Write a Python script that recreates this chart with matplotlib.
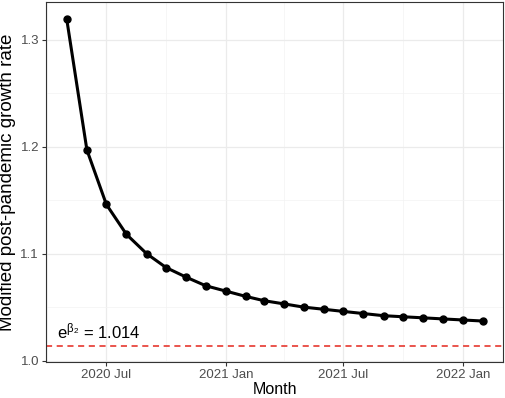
import matplotlib
matplotlib.use("Agg")
import matplotlib.pyplot as plt
import matplotlib.dates as mdates
import datetime

plt.rcParams['font.family'] = ['Liberation Sans', 'DejaVu Sans']
plt.rcParams['mathtext.fontset'] = 'custom'
plt.rcParams['mathtext.rm'] = 'Liberation Sans'
plt.rcParams['mathtext.it'] = 'Liberation Sans'

# monthly values, May 2020 .. Feb 2022
months = [datetime.date(2020 + (4 + i) // 12, (4 + i) % 12 + 1, 1) for i in range(22)]
rate = [1.319, 1.197, 1.146, 1.118, 1.100, 1.087, 1.078, 1.070, 1.065, 1.060,
        1.056, 1.053, 1.050, 1.048, 1.046, 1.044, 1.042, 1.041, 1.040, 1.039,
        1.038, 1.037]
beta2_exp = 1.014

fig = plt.figure(figsize=(5.05, 3.98), dpi=100)
ax = fig.add_axes([46/505, 1 - 362/398, (503-46)/505, (362-2)/398])

ax.axhline(beta2_exp, color='#E4261C', lw=1.1, ls=(0, (4, 3)), zorder=2)
ax.plot(months, rate, color='black', lw=2.2, marker='o', markersize=5, zorder=3)
ax.text(datetime.date(2020, 4, 16), beta2_exp + 0.004,
        r'e$^{\beta_2}$ = 1.014', fontsize=12, va='bottom', ha='left')

ax.set_xlim(datetime.date(2020, 3, 30), datetime.date(2022, 3, 4))
ax.set_ylim(0.9987, 1.3353)
ax.set_yticks([1.0, 1.1, 1.2, 1.3])
ax.set_yticks([1.05, 1.15, 1.25], minor=True)
ax.xaxis.set_major_locator(mdates.MonthLocator(bymonth=[1, 7]))
ax.xaxis.set_minor_locator(mdates.MonthLocator(bymonth=[4, 10]))
ax.xaxis.set_major_formatter(mdates.DateFormatter('%Y %b'))

ax.grid(True, which='major', color='#EBEBEB', lw=0.9)
ax.grid(True, which='minor', color='#F3F3F3', lw=0.5)
ax.set_axisbelow(True)
for s in ax.spines.values():
    s.set_color('#333333')
    s.set_linewidth(0.8)
ax.tick_params(which='major', length=3, color='#333333', labelsize=9.5, labelcolor='#4D4D4D', pad=2)
ax.tick_params(which='minor', length=0)

ax.set_xlabel('Month', fontsize=11.5, labelpad=1)
ax.set_ylabel('Modified post-pandemic growth rate', fontsize=13.5, labelpad=3)

fig.savefig('out.png', dpi=100)
